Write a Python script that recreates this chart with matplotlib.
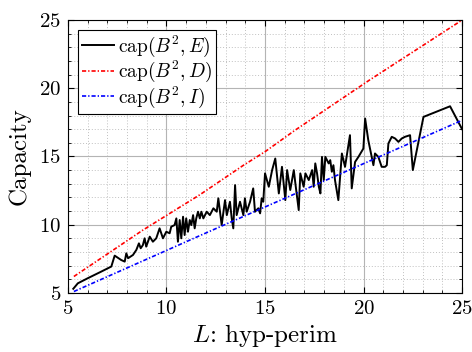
import matplotlib
matplotlib.use("Agg")
import matplotlib.pyplot as plt
from matplotlib.ticker import MultipleLocator

plt.rcParams['font.family'] = 'serif'
plt.rcParams['font.serif'] = ['cmr10', 'DejaVu Serif']
plt.rcParams['mathtext.fontset'] = 'cm'
plt.rcParams['axes.formatter.use_mathtext'] = True

# cap(B^2, E): measured, noisy
L_E = [5.27, 5.5, 6.0, 6.69, 7.2, 7.37, 7.7, 7.88, 7.96, 8.05, 8.3, 8.47, 8.6, 8.69, 8.8,
       8.89, 8.97, 9.15, 9.31, 9.48, 9.65, 9.82, 9.99, 10.16, 10.24, 10.41, 10.5, 10.58,
       10.67, 10.75, 10.84, 10.92, 11.0, 11.09, 11.18, 11.26, 11.35, 11.43, 11.51, 11.6,
       11.69, 11.77, 11.87, 12.04, 12.2, 12.38, 12.55, 12.63, 12.8, 12.97, 13.06, 13.22,
       13.31, 13.39, 13.48, 13.56, 13.73, 13.9, 13.98, 14.07, 14.24, 14.4, 14.49, 14.66,
       14.75, 14.83, 14.91, 15.0, 15.19, 15.36, 15.52, 15.7, 15.86, 16.03, 16.12, 16.28,
       16.46, 16.54, 16.71, 16.79, 16.96, 17.05, 17.22, 17.39, 17.47, 17.55, 17.64, 17.73,
       17.81, 17.89, 17.98, 18.06, 18.23, 18.31, 18.39, 18.47, 18.55, 18.72, 18.9, 19.06,
       19.31, 19.4, 19.57, 19.74, 19.99, 20.08, 20.24, 20.5, 20.58, 20.75, 20.92, 21.09,
       21.18, 21.26, 21.43, 21.6, 21.77, 21.94, 22.1, 22.36, 22.5, 23.04, 24.39, 25.0]
cap_E = [5.3, 5.7, 6.07, 6.56, 6.93, 7.73, 7.41, 7.29, 7.9, 7.54, 7.78, 8.15, 8.63, 8.27, 8.5,
         9.0, 8.39, 9.12, 8.75, 9.0, 9.73, 9.0, 9.48, 9.37, 9.85, 9.97, 10.46, 8.75,
         10.34, 9.0, 10.58, 9.24, 10.46, 9.48, 10.34, 9.97, 10.7, 9.73, 10.46, 10.95,
         10.46, 10.95, 10.46, 10.95, 10.7, 11.2, 10.95, 11.93, 9.97, 11.8, 10.7, 11.68,
         10.46, 9.73, 12.9, 10.7, 11.68, 10.7, 11.93, 10.95, 11.68, 12.66, 10.95, 11.2,
         10.83, 11.93, 11.68, 13.76, 12.78, 14.0, 14.85, 12.29, 14.24, 11.8, 14.0, 12.54,
         14.0, 13.02, 11.07, 13.76, 12.78, 13.76, 13.27, 14.0, 12.78, 14.49, 13.76, 12.78,
         12.29, 14.97, 13.27, 14.97, 14.49, 14.73, 13.88, 14.36, 13.27, 11.8, 15.22, 14.24,
         16.56, 12.66, 14.6, 14.97, 15.58, 17.78, 16.19, 14.36, 15.22, 14.97, 14.24, 14.24,
         14.36, 15.95, 16.44, 16.32, 16.07, 16.32, 16.44, 16.56, 14.0, 17.9, 18.68, 17.0]

# cap(B^2, D): upper bound
L_D = [5.3, 8.8, 11.7, 13.9, 15.0, 16.5, 20.3, 25.0]
cap_D = [6.2, 9.6, 12.2, 14.35, 15.35, 16.9, 20.6, 25.0]

# cap(B^2, I): lower bound
L_I = [5.3, 11.7, 25.0]
cap_I = [5.1, 9.2, 17.65]

fig = plt.figure(figsize=(4.72, 3.52), dpi=100)
ax = fig.add_axes([0.144, 0.168, 0.835, 0.775])

ax.plot(L_E, cap_E, color='black', lw=1.4, label=r'$\mathrm{cap}(B^2, E)$')
ax.plot(L_D, cap_D, color='red', lw=1.2, dashes=(2.5, 1.2, 0.8, 1.2), label=r'$\mathrm{cap}(B^2, D)$')
ax.plot(L_I, cap_I, color='blue', lw=1.2, dashes=(2.5, 1.2, 0.8, 1.2), label=r'$\mathrm{cap}(B^2, I)$')

ax.set_xlim(5, 25)
ax.set_ylim(5, 25)
ax.xaxis.set_major_locator(MultipleLocator(5))
ax.yaxis.set_major_locator(MultipleLocator(5))
ax.xaxis.set_minor_locator(MultipleLocator(1))
ax.yaxis.set_minor_locator(MultipleLocator(1))
ax.grid(True, which='major', color='#b4b4b4', lw=0.8)
ax.grid(True, which='minor', color='#c0c0c0', lw=0.7, linestyle=(0, (1, 2)))
ax.set_axisbelow(True)
ax.tick_params(which='both', direction='in', top=True, right=True, labelsize=15, pad=5)
ax.tick_params(which='major', length=4)
ax.tick_params(which='minor', length=2)

ax.set_xlabel(r'$L$: hyp-perim', fontsize=18, labelpad=3)
ax.set_ylabel('Capacity', fontsize=18, labelpad=6)

leg = ax.legend(loc='upper left', fontsize=14, fancybox=False, framealpha=1,
                edgecolor='black', handlelength=1.65, handletextpad=0.2,
                borderpad=0.2, labelspacing=0.0, borderaxespad=0.5)
leg.get_frame().set_linewidth(0.8)

fig.savefig('out.png', dpi=100)
